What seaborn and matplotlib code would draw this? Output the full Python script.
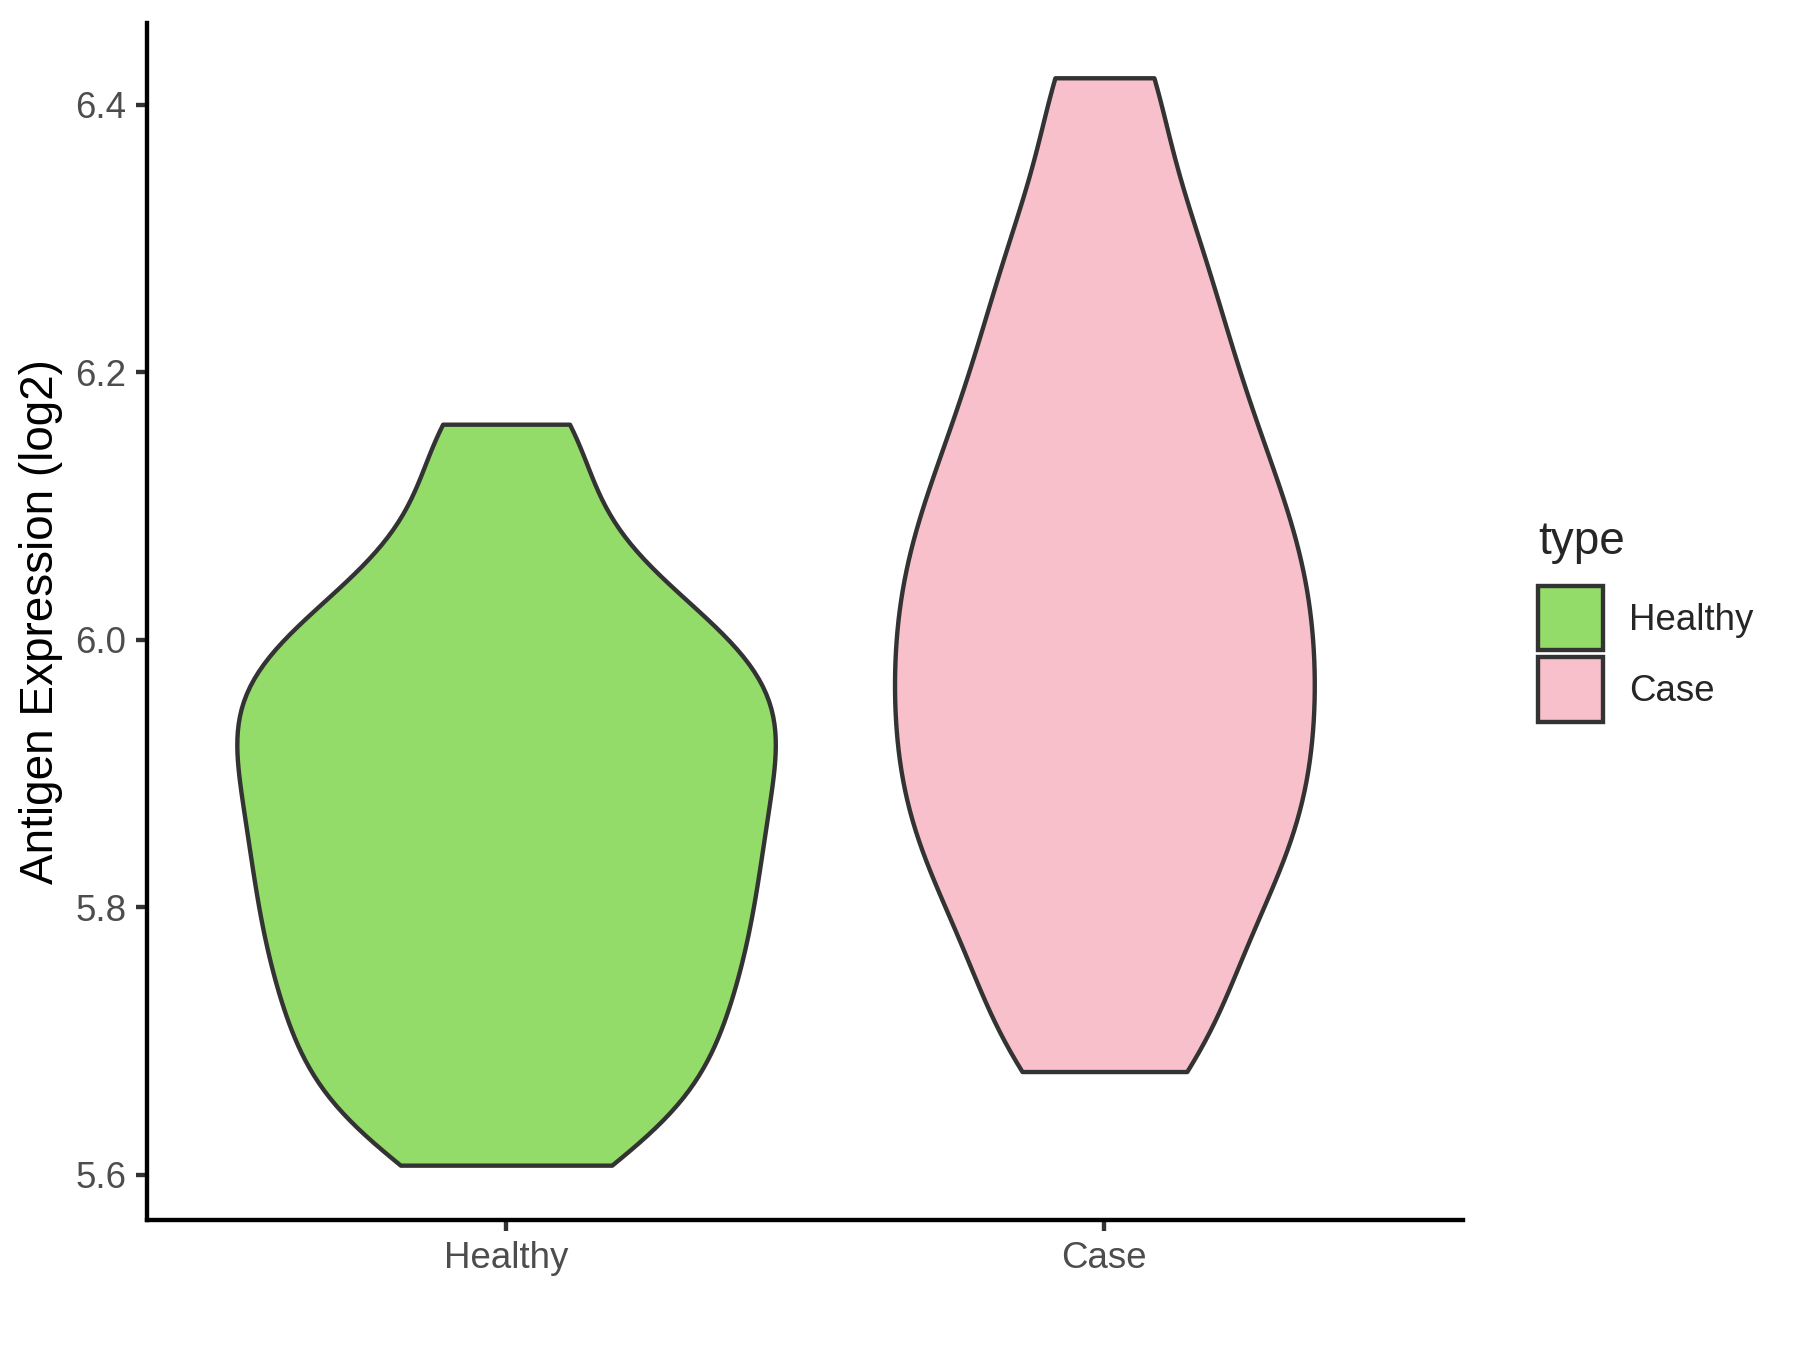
import numpy as np
import pandas as pd
import matplotlib
matplotlib.use("Agg")
import matplotlib.pyplot as plt
import seaborn as sns
from matplotlib.patches import Patch

# expression values (log2), chosen so the violins follow the reference outline
healthy = [5.607, 5.642, 5.666, 5.690, 5.713, 5.735, 5.756, 5.776, 5.796, 5.816,
           5.835, 5.854, 5.873, 5.892, 5.910, 5.928, 5.945, 5.963, 5.980, 5.998,
           6.022, 6.050, 6.100, 6.161]
case = [5.677, 5.716, 5.764, 5.803, 5.832, 5.859, 5.885, 5.911, 5.936, 5.961,
        5.986, 6.011, 6.037, 6.062, 6.089, 6.118, 6.151, 6.187, 6.229, 6.275,
        6.331, 6.420]
groups = ["Healthy", "Case"]
colors = ["#93DC6A", "#F7C0CB"]
yticks = [5.6, 5.8, 6.0, 6.2, 6.4]

df = pd.DataFrame({
    "type": ["Healthy"] * len(healthy) + ["Case"] * len(case),
    "value": healthy + case,
})

sns.set_style("white")
plt.rcParams["font.family"] = ["Liberation Sans", "DejaVu Sans"]

fig = plt.figure(figsize=(12, 9), dpi=150)
ax = fig.add_axes([0.0817, 0.0963, 0.7313, 0.8867])

sns.violinplot(data=df, x="type", y="value", hue="type", order=groups,
               hue_order=groups, palette=colors, cut=0, inner=None,
               width=0.9, density_norm="area", common_norm=True, bw_method=0.3,
               linewidth=2.1, linecolor="#333333", saturation=1,
               legend=False, ax=ax)

ax.set_xlim(-0.6, 1.6)
ax.set_ylim(5.566, 6.461)
ax.set_yticks(yticks)
ax.set_yticklabels([f"{v:.1f}" for v in yticks])
ax.set_xlabel("")
ax.set_ylabel("Antigen Expression (log2)", fontsize=22, color="black", labelpad=6)
ax.tick_params(axis="both", direction="out", length=5.5, width=2.1, color="#333333",
               labelsize=17.6, labelcolor="#4D4D4D", left=True, bottom=True, pad=4.4)
for side in ["top", "right"]:
    ax.spines[side].set_visible(False)
for side in ["left", "bottom"]:
    ax.spines[side].set_color("black")
    ax.spines[side].set_linewidth(2.1)

handles = [Patch(facecolor=c, edgecolor="#333333", linewidth=2.1, label=g)
           for g, c in zip(groups, colors)]
leg = fig.legend(handles=handles, title="type", loc="center left",
                 bbox_to_anchor=(0.8545, 0.54), frameon=False, fontsize=17.6,
                 title_fontsize=22, handlelength=1.77, handleheight=2.32,
                 labelspacing=0.19, handletextpad=0.72, borderaxespad=0,
                 borderpad=0)
leg._legend_box.align = "left"
leg._legend_box.sep = 10.5  # a bit more room between title and keys

fig.savefig("out.png", dpi=150)
